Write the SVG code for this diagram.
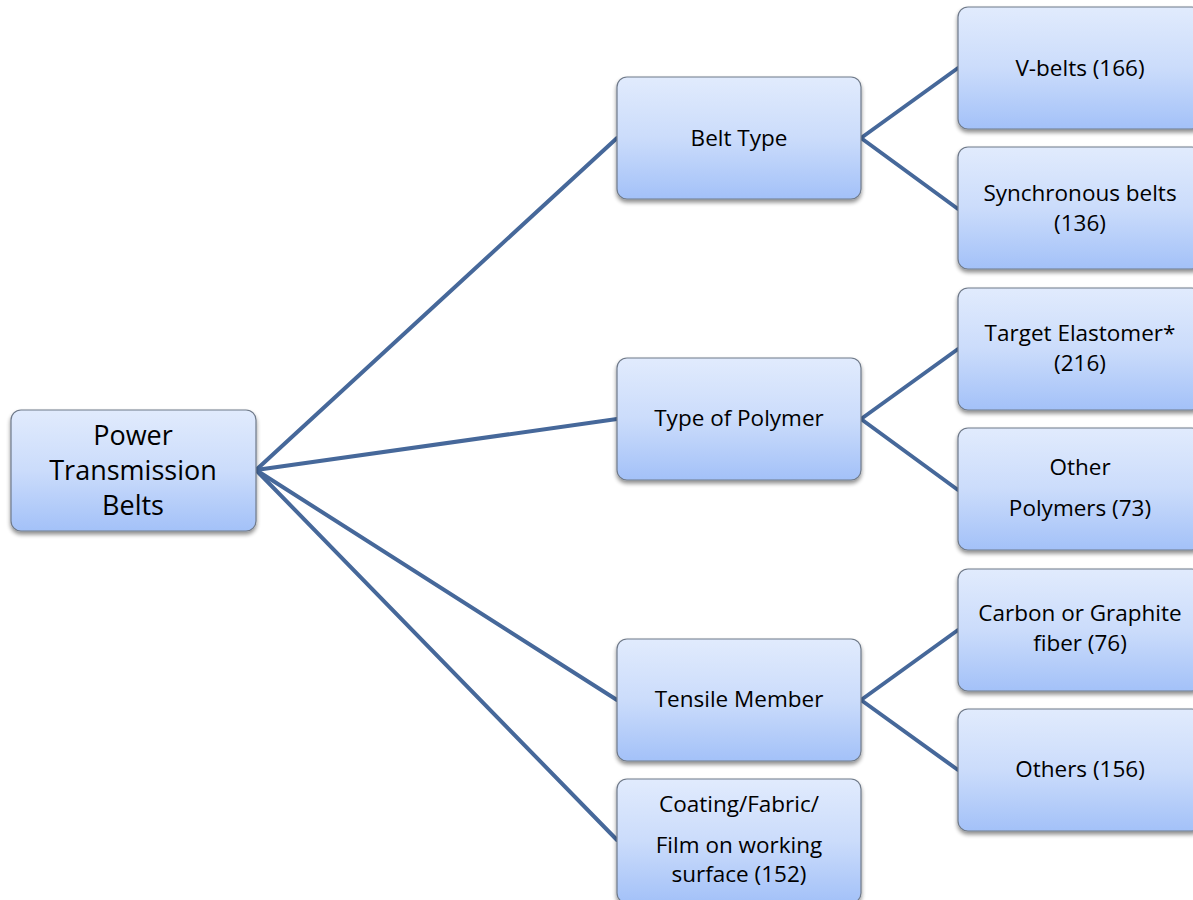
<svg xmlns="http://www.w3.org/2000/svg" width="1193" height="900" viewBox="0 0 1193 900">
<defs>
<linearGradient id="g" x1="0" y1="0" x2="0" y2="1">
<stop offset="0" stop-color="#e1ebfd"/>
<stop offset="0.5" stop-color="#cbdcfb"/>
<stop offset="1" stop-color="#a3c1f8"/>
</linearGradient>
<filter id="sh" x="-10%" y="-10%" width="120%" height="130%">
<feGaussianBlur in="SourceAlpha" stdDeviation="2"/>
<feOffset dx="0" dy="3" result="o"/>
<feComponentTransfer><feFuncA type="linear" slope="0.45"/></feComponentTransfer>
<feMerge><feMergeNode/><feMergeNode in="SourceGraphic"/></feMerge>
</filter>
</defs>
<style>
.box{fill:url(#g);stroke:#6f7a8a;stroke-width:1.2;filter:url(#sh)}
.t{font-family:"Open Sans","Liberation Sans",sans-serif;font-size:22.5px;fill:#000;text-anchor:middle}
.r{font-size:27px}
.c{fill:none;stroke:#46689a;stroke-width:4;stroke-linecap:round}
</style>
<rect width="1193" height="900" fill="#fff"/>
<g id="connectors">
<line class="c" x1="256" y1="470" x2="617" y2="138"/>
<line class="c" x1="256" y1="470" x2="617" y2="419"/>
<line class="c" x1="256" y1="470" x2="617" y2="700"/>
<line class="c" x1="256" y1="470" x2="617" y2="840"/>
<line class="c" x1="861" y1="138" x2="958" y2="68"/>
<line class="c" x1="861" y1="138" x2="958" y2="209"/>
<line class="c" x1="861" y1="419" x2="958" y2="349"/>
<line class="c" x1="861" y1="419" x2="958" y2="490"/>
<line class="c" x1="861" y1="700" x2="958" y2="630"/>
<line class="c" x1="861" y1="700" x2="958" y2="770"/>
</g>
<g id="root"><rect class="box" x="11" y="410" width="245" height="121" rx="10"/>
<text class="t r" x="133" y="445">Power</text><text class="t r" x="133" y="480">Transmission</text><text class="t r" x="133" y="515">Belts</text></g>
<g id="beltType"><rect class="box" x="617" y="77" width="244" height="122" rx="10"/>
<text class="t" x="739" y="146">Belt Type</text></g>
<g id="typePolymer"><rect class="box" x="617" y="358" width="244" height="122" rx="10"/>
<text class="t" x="739" y="426">Type of Polymer</text></g>
<g id="tensile"><rect class="box" x="617" y="639" width="244" height="122" rx="10"/>
<text class="t" x="739" y="707">Tensile Member</text></g>
<g id="coating"><rect class="box" x="617" y="779" width="244" height="124" rx="10"/>
<text class="t" x="739" y="812">Coating/Fabric/</text><text class="t" x="739" y="853">Film on working</text><text class="t" x="739" y="882">surface (152)</text></g>
<g id="vbelts"><rect class="box" x="958" y="7" width="244" height="122" rx="10"/>
<text class="t" x="1080" y="76">V-belts (166)</text></g>
<g id="sync"><rect class="box" x="958" y="147" width="244" height="122" rx="10"/>
<text class="t" x="1080" y="201">Synchronous belts</text><text class="t" x="1080" y="231">(136)</text></g>
<g id="target"><rect class="box" x="958" y="288" width="244" height="122" rx="10"/>
<text class="t" x="1080" y="341">Target Elastomer*</text><text class="t" x="1080" y="371">(216)</text></g>
<g id="otherPoly"><rect class="box" x="958" y="428" width="244" height="122" rx="10"/>
<text class="t" x="1080" y="475">Other</text><text class="t" x="1080" y="516">Polymers (73)</text></g>
<g id="carbon"><rect class="box" x="958" y="569" width="244" height="122" rx="10"/>
<text class="t" x="1080" y="621">Carbon or Graphite</text><text class="t" x="1080" y="651">fiber (76)</text></g>
<g id="others"><rect class="box" x="958" y="709" width="244" height="122" rx="10"/>
<text class="t" x="1080" y="777">Others (156)</text></g>
</svg>
